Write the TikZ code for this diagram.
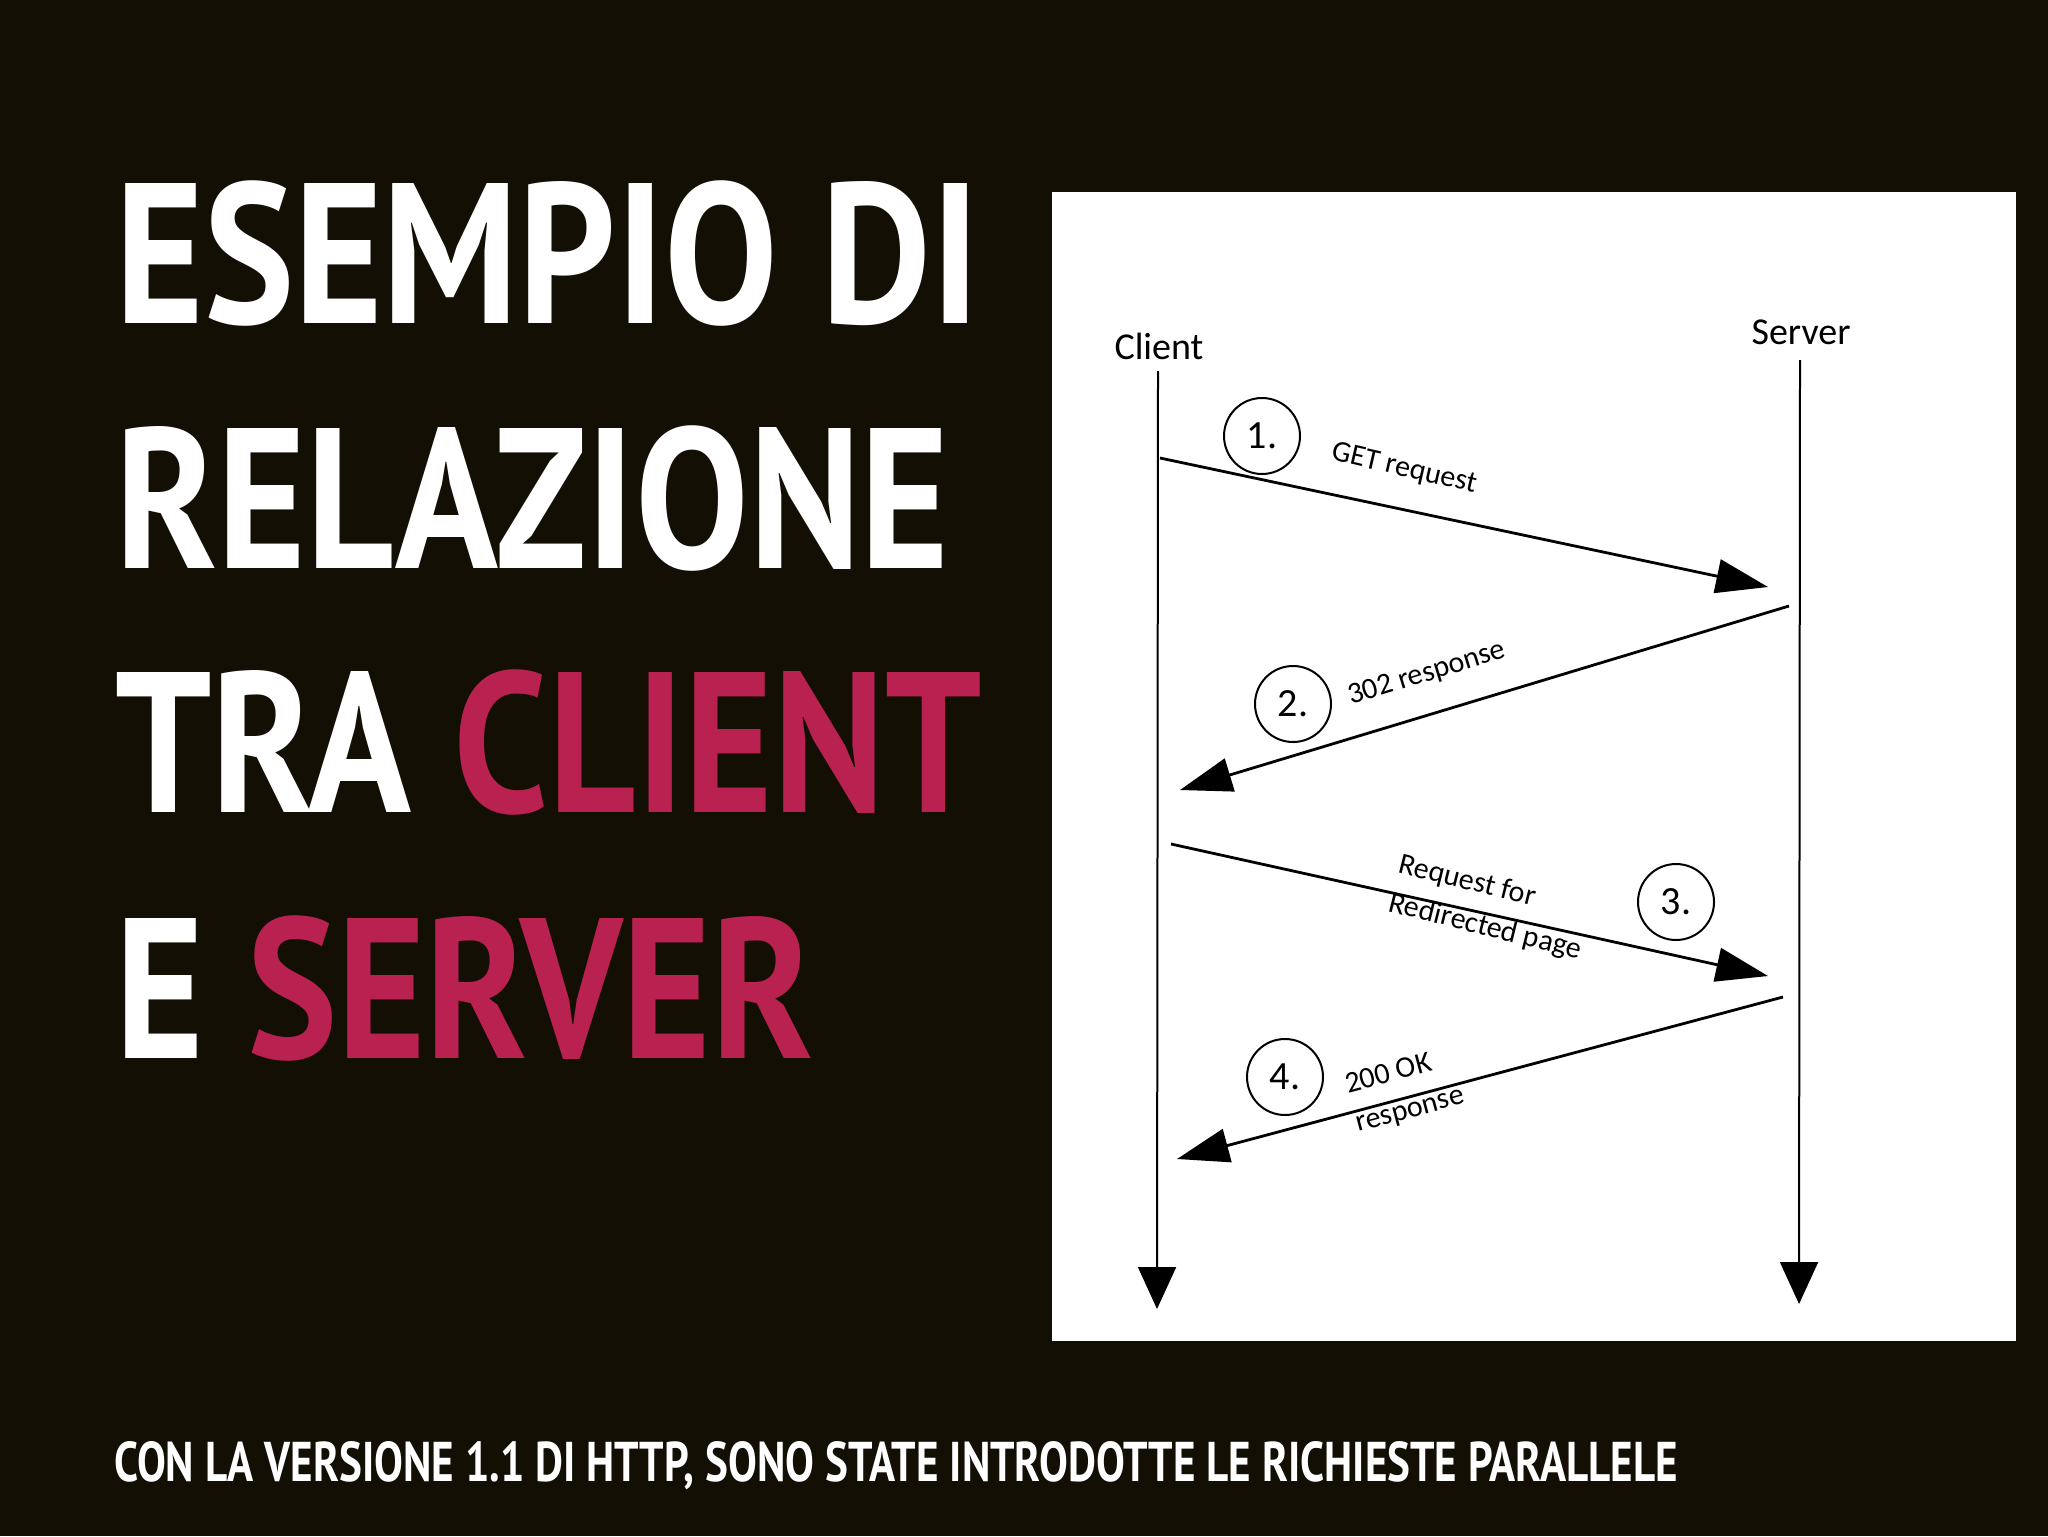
\documentclass[tikz,border=0pt]{standalone}
\usepackage{fontspec}
\usetikzlibrary{arrows.meta}
\setmainfont{PT Sans}
\newfontfamily\titlefont{PT Sans}[FakeStretch=0.85]
\newfontfamily\footfont{PT Sans}[FakeStretch=0.77]
\newfontfamily\diagfont{Carlito}
\definecolor{bg}{RGB}{19,15,4}
\definecolor{accent}{RGB}{184,33,80}
\begin{document}
\begin{tikzpicture}[x=0.5pt,y=-0.5pt,
  lifeline/.style={line width=1pt, -{Triangle[length=21pt,width=19pt]}},
  msg/.style={line width=1.4pt, -{Triangle[length=26pt,width=17pt]}},
  num/.style={circle, draw, line width=1pt, minimum size=38pt, inner sep=0pt, font=\diagfont\fontsize{20}{20}\selectfont},
  lbl/.style={font=\diagfont\fontsize{15}{20}\selectfont, inner sep=0pt, align=left},
  actor/.style={font=\diagfont\fontsize{19}{19}\selectfont, inner sep=0pt, anchor=base},
  title/.style={font=\titlefont\bfseries\fontsize{100}{100}\selectfont, text=white, anchor=base west, inner sep=0pt},
  footer/.style={font=\footfont\bfseries\fontsize{28}{28}\selectfont, text=white, anchor=base west, inner sep=0pt},
]
\fill[bg] (0,0) rectangle (2048,1536);
\useasboundingbox (0,0) rectangle (2048,1536);
\fill[white] (1052,192) rectangle (2016,1341);

\node[title] (t1) at (115,323) {ESEMPIO DI};
\node[title] (t2) at (115,568) {RELAZIONE};
\node[title] (t3) at (115,812) {TRA \textcolor{accent}{CLIENT}};
\node[title] (t4) at (115,1058) {E \textcolor{accent}{SERVER}};
\node[footer] (foot) at (114,1481) {CON LA VERSIONE 1.1 DI HTTP, SONO STATE INTRODOTTE LE RICHIESTE PARALLELE};

\node[actor] (client) at (1159,359) {Client};
\node[actor] (server) at (1801,344) {Server};

\coordinate (ctop) at (1158,371);
\coordinate (cbot) at (1157,1309);
\coordinate (stop) at (1800,360);
\coordinate (sbot) at (1799,1304);
\draw[lifeline] (ctop) -- (cbot);
\draw[lifeline] (stop) -- (sbot);

\coordinate (m1s) at (1160,458);
\coordinate (m1e) at (1768,587);
\coordinate (m2s) at (1789,606);
\coordinate (m2e) at (1180,790);
\coordinate (m3s) at (1171,844);
\coordinate (m3e) at (1768,976);
\coordinate (m4s) at (1783,997);
\coordinate (m4e) at (1177,1159);
\draw[msg] (m1s) -- (m1e);
\draw[msg] (m2s) -- (m2e);
\draw[msg] (m3s) -- (m3e);
\draw[msg] (m4s) -- (m4e);

\node[num] (n1) at (1262,436) {1.};
\node[num] (n2) at (1293,704) {2.};
\node[num] (n3) at (1676,902) {3.};
\node[num] (n4) at (1285,1077) {4.};

\node[lbl, rotate=-13] (l1) at (1404,469) {GET request};
\node[lbl, rotate=17] (l2) at (1427,674) {302 response};
\node[lbl, rotate=-14] (l3) at (1490,908) {Request for\\Redirected page};
\node[lbl, rotate=15] (l4) at (1405,1091) {200 OK\\response};
\end{tikzpicture}
\end{document}
